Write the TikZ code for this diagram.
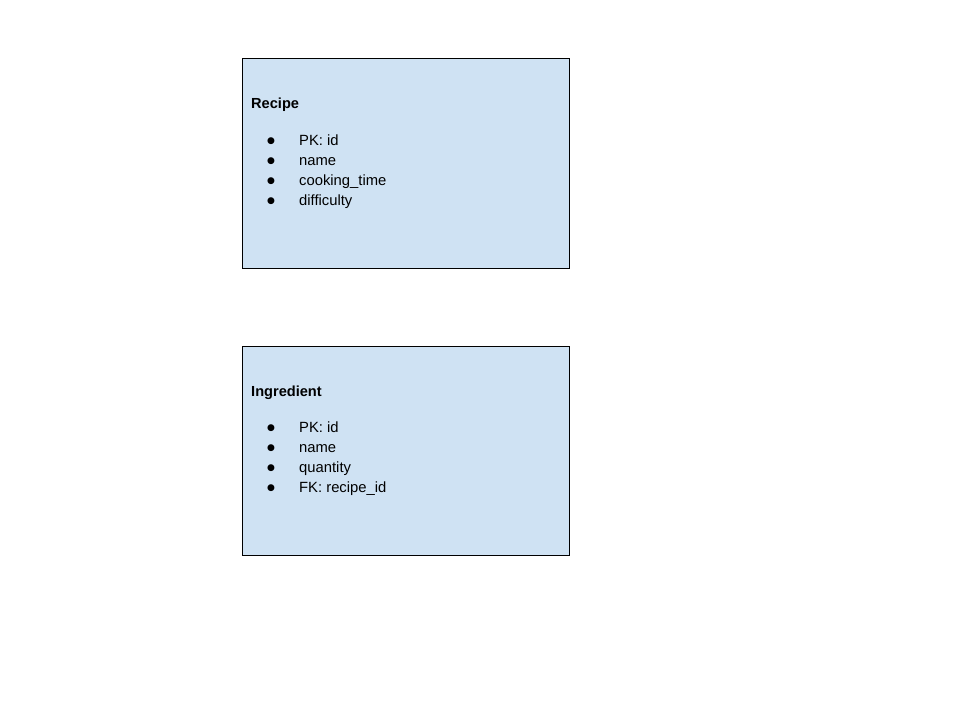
\documentclass[tikz,border=0pt]{standalone}
\usepackage{fontspec}
\setmainfont{Liberation Sans}
\newfontfamily\symfont{DejaVu Sans}
\usetikzlibrary{positioning}
\definecolor{tblblue}{HTML}{CFE2F3}
\tikzset{
  tblbox/.style={draw=black, fill=tblblue, line width=0.9pt, minimum width=327pt,
    minimum height=210pt, inner sep=0pt},
  tbltitle/.style={font=\fontsize{14.6}{16}\selectfont\bfseries, inner sep=0pt, anchor=base west},
  tblitem/.style={font=\fontsize{14.8}{16}\selectfont, inner sep=0pt, anchor=base west},
  tbldot/.style={font=\symfont\fontsize{9}{10}\selectfont, inner sep=0pt, anchor=base},
}

\begin{document}
\begin{tikzpicture}[x=1pt, y=-1pt]
  \useasboundingbox (0,0) rectangle (960,720);
  % recipe table
  \node[tblbox] (recipe) at (405.5,163) {};
  \node[tbltitle] (recipettl) at (251,108) {Recipe};
  \foreach \txt [count=\i] in {PK: id, name, cooking\_time, difficulty} {
    \node[tbldot] (recipedot\i) at (271,{123.5+20*\i}) {●};
    \node[tblitem] (recipeitem\i) at (299,{125+20*\i}) {\txt};
  }
  % ingredient table
  \node[tblbox, minimum height=209pt] (ingr) at (405.5,450.5) {};
  \node[tbltitle] (ingrttl) at (251,396) {Ingredient};
  \foreach \txt [count=\i] in {PK: id, name, quantity, FK: recipe\_id} {
    \node[tbldot] (ingrdot\i) at (271,{410.5+20*\i}) {●};
    \node[tblitem] (ingritem\i) at (299,{412+20*\i}) {\txt};
  }
\end{tikzpicture}
\end{document}
